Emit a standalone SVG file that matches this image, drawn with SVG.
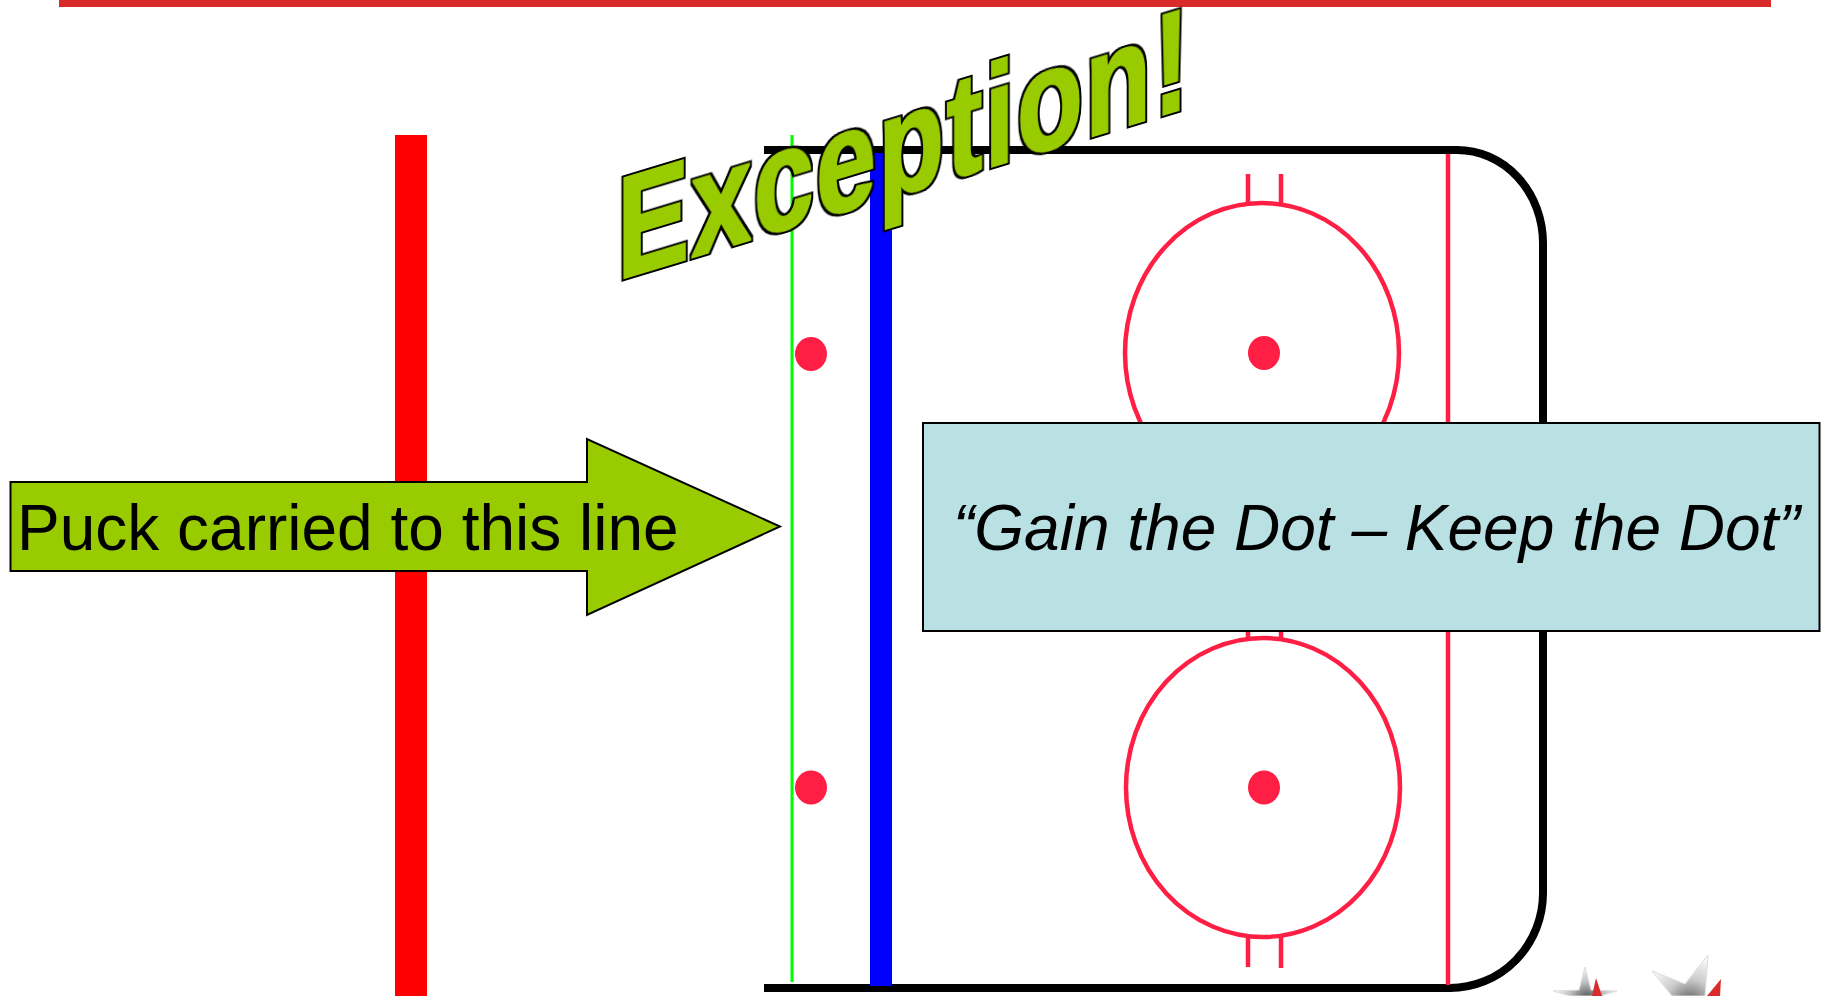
<svg xmlns="http://www.w3.org/2000/svg" width="1830" height="996" viewBox="0 0 1830 996">
<style>
.rink{fill:none;stroke:#000;stroke-width:8}
.mark{fill:none;stroke:#ff1f45;stroke-width:4.500}
.dot{fill:#ff1f45}
.lbl{font-family:"Liberation Sans",Arial,sans-serif;font-size:64px;fill:#000}
.edge{stroke:#000;stroke-width:2}
</style>
<defs>
<radialGradient id="g1" gradientUnits="userSpaceOnUse" cx="1587" cy="1000" r="34"><stop offset="0" stop-color="#444"/><stop offset="0.5" stop-color="#bbb"/><stop offset="1" stop-color="#fff"/></radialGradient>
<radialGradient id="g2" gradientUnits="userSpaceOnUse" cx="1690" cy="1004" r="50"><stop offset="0" stop-color="#555"/><stop offset="0.5" stop-color="#ccc"/><stop offset="1" stop-color="#fff"/></radialGradient>
<filter id="wordart" x="-5%" y="-20%" width="110%" height="140%" color-interpolation-filters="sRGB">
<feMorphology in="SourceAlpha" operator="dilate" radius="3.400 2.600" result="o"/>
<feFlood flood-color="#000"/><feComposite in2="o" operator="in" result="ob"/>
<feMorphology in="SourceAlpha" operator="dilate" radius="1.200 1" result="i"/>
<feFlood flood-color="#9c0"/><feComposite in2="i" operator="in" result="ig"/>
<feMerge><feMergeNode in="ob"/><feMergeNode in="ig"/></feMerge>
</filter>
</defs>
<rect id="top-bar" x="59" y="0" width="1712" height="7" fill="#d92b2b"/>
<rect id="red-line" x="395" y="135" width="32" height="861" fill="#f00"/>
<g id="rink">
<path class="rink" d="M764 150H1457A86 93 0 0 1 1543 243V893A93 95 0 0 1 1450 988H764"/>
<line x1="792" y1="135" x2="792" y2="982" stroke="#0f0" stroke-width="3"/>
<rect x="870" y="153" width="22" height="833" fill="#00f"/>
<line class="mark" x1="1448" y1="154" x2="1448" y2="985"/>
<ellipse class="dot" cx="811" cy="354" rx="16" ry="17"/>
<ellipse class="dot" cx="811" cy="787.500" rx="16" ry="17"/>
</g>
<g id="upper-circle">
<ellipse class="mark" cx="1262" cy="353" rx="137" ry="150"/>
<path class="mark" d="M1248 174V203M1281 174V203"/>
<ellipse class="dot" cx="1264" cy="353" rx="16" ry="17"/>
</g>
<g id="lower-circle">
<ellipse class="mark" cx="1263" cy="787.500" rx="137" ry="149.500"/>
<path class="mark" d="M1248 630V638M1281 630V638M1248 937V967M1281 937V968"/>
<ellipse class="dot" cx="1264" cy="787.500" rx="16" ry="17"/>
</g>
<g id="stars">
<polygon points="1585,967 1591,990 1617,991 1600,996 1570,996 1553,991 1579,990" fill="url(#g1)" stroke="#ddd"/>
<polygon points="1596,978 1602,996 1592,996" fill="#d92b2b"/>
<polygon points="1708,955 1685,984 1652,971 1672,996 1705,996" fill="url(#g2)" stroke="#ddd"/>
<polygon points="1721,979 1720,996 1707,996" fill="#d92b2b"/>
</g>
<g id="arrow">
<polygon class="edge" points="10.500,482 587,482 587,439 780,526.500 587,615 587,571 10.500,571" fill="#9c0"/>
<text class="lbl" x="17" y="550">Puck carried to this line</text>
</g>
<g id="quote">
<rect class="edge" x="923" y="423" width="896.500" height="208" fill="#b9e0e3"/>
<text class="lbl" x="953" y="550" font-style="italic">“Gain the Dot – Keep the Dot”</text>
</g>
<g id="exception" transform="translate(624.500 278) matrix(1 -0.303 0 1 0 0) scale(0.75 1)">
<text x="-10" y="0" letter-spacing="3" font-family="'Liberation Sans',Arial,sans-serif" font-weight="bold" font-size="144" fill="#9c0" filter="url(#wordart)">Exception!</text>
</g>
</svg>
